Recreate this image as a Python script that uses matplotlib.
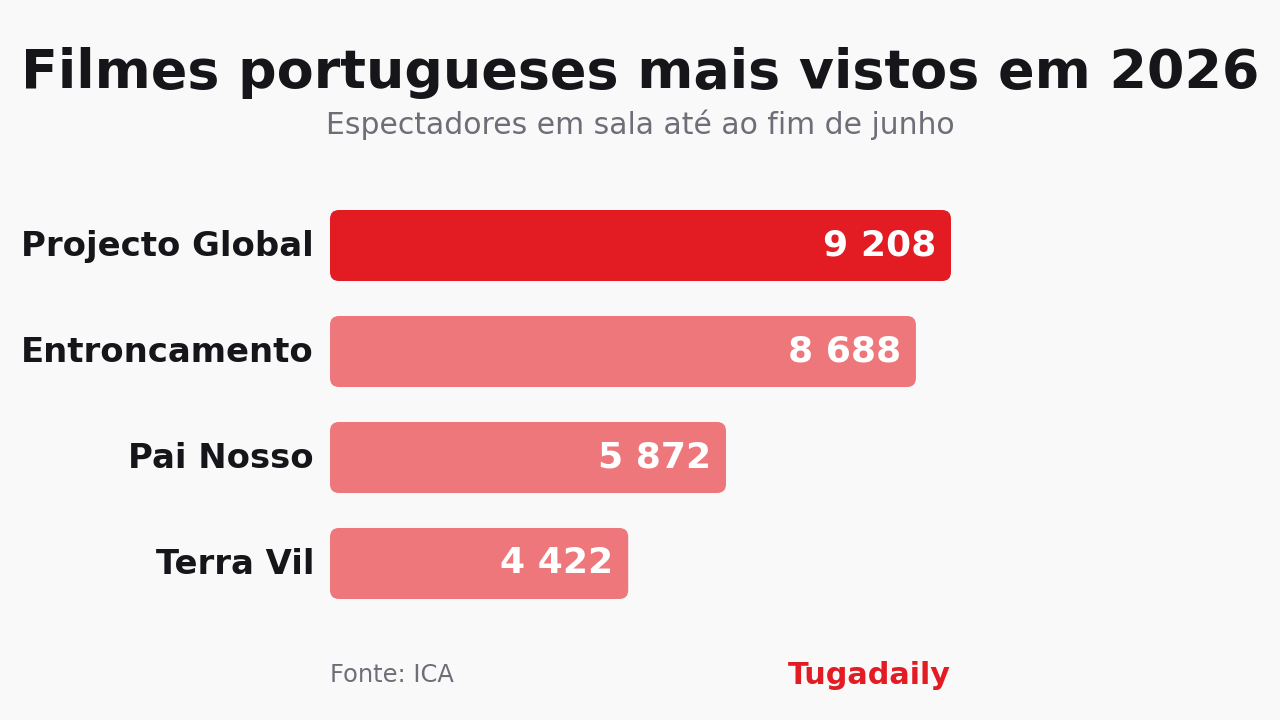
import matplotlib.pyplot as plt
from matplotlib.patches import FancyBboxPatch

plt.rcParams['font.family'] = ['DejaVu Sans']

films = ['Projecto Global', 'Entroncamento', 'Pai Nosso', 'Terra Vil']
viewers = [9208, 8688, 5872, 4422]
value_labels = ['9 208', '8 688', '5 872', '4 422']

BG = '#f9f9f9'
RED = '#e31b23'
PALE = '#ee777b'
DARK = '#16161a'
GREY = '#6e6e78'

fig = plt.figure(figsize=(12.8, 7.2), dpi=100, facecolor=BG)
ax = fig.add_axes([330 / 1280, 1 - 599 / 720, 621 / 1280, 389 / 720])
ax.set_facecolor(BG)

h = 0.67
bars = ax.barh(range(len(films)), viewers, height=h, color='none')
ax.set_xlim(0, max(viewers))
ax.set_ylim(len(films) - 1 + h / 2, -h / 2)
ax.axis('off')

# swap plain bars for rounded ones (radius in pixels -> data units)
x_per_px = max(viewers) / 621
y_per_px = (len(films) - 1 + h) / 389
r_px = 9
for i, b in enumerate(bars):
    x0, y0 = b.get_x(), b.get_y()
    w, hh = b.get_width(), b.get_height()
    p = FancyBboxPatch((x0, y0), w, hh,
                       boxstyle='round,pad=0,rounding_size=%f' % (r_px * x_per_px),
                       mutation_aspect=y_per_px / x_per_px,
                       facecolor=RED if i == 0 else PALE, edgecolor='none',
                       clip_on=False)
    ax.add_patch(p)
    b.remove()
    ax.text(w - 15 * x_per_px, i, value_labels[i], ha='right', va='center',
            color='white', fontsize=26, fontweight='bold')
    ax.text(-16 * x_per_px, i + 0.01, films[i], ha='right', va='center',
            color=DARK, fontsize=24.4, fontweight='bold', clip_on=False)

fig.text(0.5, 1 - 73 / 720, 'Filmes portugueses mais vistos em 2026', ha='center',
         va='center', fontsize=38.8, fontweight='bold', color=DARK)
fig.text(0.5, 1 - 125 / 720, 'Espectadores em sala até ao fim de junho', ha='center',
         va='center', fontsize=21.5, color=GREY)
fig.text(330 / 1280, 1 - 675 / 720, 'Fonte: ICA', ha='left', va='center',
         fontsize=17.4, color=GREY)
fig.text(951 / 1280, 1 - 675 / 720, 'Tugadaily', ha='right', va='center',
         fontsize=21.8, fontweight='bold', color=RED)

fig.savefig('out.png', dpi=100, facecolor=BG)
